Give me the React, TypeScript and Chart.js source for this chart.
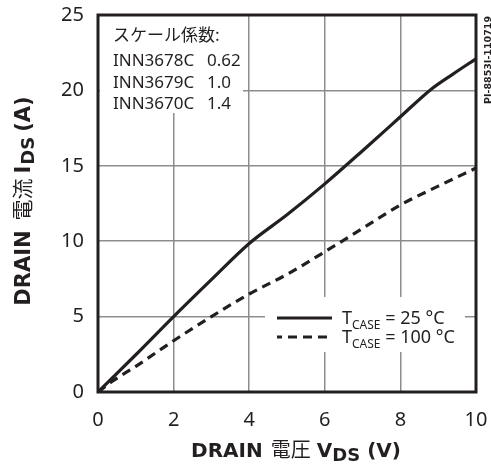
import React, { useEffect, useRef } from "react";
import { Chart, registerables } from "chart.js";
Chart.register(...registerables);

// ---- data ----
const vds25 = [0, 1, 2, 3, 4, 5, 6, 7, 8, 8.8, 9.4, 10];
const ids25 = [0, 2.47, 5.0, 7.45, 9.85, 11.75, 13.8, 16.0, 18.25, 20.05, 21.1, 22.1];
const vds100 = [0, 0.4, 1, 2, 3, 4, 5, 6, 7, 8, 9, 10];
const ids100 = [0, 0.75, 1.7, 3.4, 5.0, 6.5, 7.8, 9.3, 10.85, 12.4, 13.65, 14.85];
const xMin = 0, xMax = 10, xStep = 2;
const yMin = 0, yMax = 25, yStep = 5;
const scaleHeader = "スケール係数:";
const partNames = ["INN3678C", "INN3679C", "INN3670C"];
const scaleFactors = ["0.62", "1.0", "1.4"];
const legendTemps = ["= 25 °C", "= 100 °C"];
const docId = "PI-8853I-110719";

const INK = "#231f20";
const GRID = "#8d8d8d";
const SANS = "'Noto Sans', sans-serif";
const BOLD = "'DejaVu Sans', sans-serif";
const CJK = "'Noto Sans CJK JP', sans-serif";

type Run = { t: string; f: string; dy?: number; gap?: number };

function runsWidth(ctx: CanvasRenderingContext2D, runs: Run[]) {
  let w = 0;
  for (const r of runs) { ctx.font = r.f; w += ctx.measureText(r.t).width + (r.gap || 0); }
  return w;
}
function drawRuns(ctx: CanvasRenderingContext2D, runs: Run[], x: number, y: number, align: "left" | "center") {
  let cx = align === "center" ? x - runsWidth(ctx, runs) / 2 : x;
  ctx.textAlign = "left";
  ctx.textBaseline = "alphabetic";
  for (const r of runs) {
    ctx.font = r.f;
    ctx.fillText(r.t, cx, y + (r.dy || 0));
    cx += ctx.measureText(r.t).width + (r.gap || 0);
  }
}

const decor = {
  id: "decor",
  beforeDatasetsDraw(chart: any) {
    const ctx = chart.ctx as CanvasRenderingContext2D;
    ctx.save();
    ctx.fillStyle = "#ffffff";
    ctx.fillRect(100, 16, 143, 97);
    ctx.fillRect(265, 297, 200, 55);
    ctx.restore();
  },
  afterDatasetsDraw(chart: any) {
    const ctx = chart.ctx as CanvasRenderingContext2D;
    const a = chart.chartArea;
    ctx.save();
    ctx.strokeStyle = INK;
    ctx.lineWidth = 3;
    ctx.strokeRect(a.left, a.top, a.right - a.left, a.bottom - a.top);

    ctx.fillStyle = INK;
    // scale factor note
    ctx.font = `17px ${CJK}`;
    ctx.textBaseline = "alphabetic";
    ctx.textAlign = "left";
    ctx.fillText(scaleHeader, 113, 41);
    ctx.font = `17px ${SANS}`;
    partNames.forEach((p, i) => {
      const y = 66 + i * 21.7;
      ctx.fillText(p, 113, y);
      ctx.fillText(scaleFactors[i], 207, y);
    });

    // legend
    const ly = [318, 337];
    ctx.strokeStyle = INK;
    ctx.lineWidth = 3.2;
    ctx.beginPath();
    ctx.setLineDash([]);
    ctx.moveTo(277, ly[0]); ctx.lineTo(332, ly[0]);
    ctx.stroke();
    ctx.beginPath();
    ctx.setLineDash([9, 6]);
    ctx.lineDashOffset = 4;
    ctx.moveTo(277, ly[1]); ctx.lineTo(332, ly[1]);
    ctx.stroke();
    ctx.setLineDash([]);
    legendTemps.forEach((t, i) => {
      drawRuns(ctx, [
        { t: "T", f: `18px ${SANS}` },
        { t: "CASE", f: `12px ${SANS}`, dy: 5 },
        { t: " " + t, f: `18px ${SANS}` },
      ], 342, ly[i] + 6, "left");
    });

    // x title
    drawRuns(ctx, [
      { t: "DRAIN", f: `bold 20px ${BOLD}`, gap: 8 },
      { t: "電圧", f: `20px ${CJK}`, gap: 6 },
      { t: "V", f: `bold 20px ${BOLD}` },
      { t: "DS", f: `bold 18px ${BOLD}`, dy: 4, gap: 7 },
      { t: "(V)", f: `bold 20px ${BOLD}` },
    ], 296, 457, "center");

    // y title
    ctx.save();
    ctx.translate(30, 201);
    ctx.rotate(-Math.PI / 2);
    drawRuns(ctx, [
      { t: "DRAIN", f: `bold 21px ${BOLD}`, gap: 10 },
      { t: "電流", f: `21px ${CJK}`, gap: 5 },
      { t: "I", f: `bold 21px ${BOLD}`, gap: 1 },
      { t: "DS", f: `bold 18px ${BOLD}`, dy: 4, gap: 5 },
      { t: "(A)", f: `bold 21px ${BOLD}` },
    ], 0, 0, "center");
    ctx.restore();

    // document id
    ctx.save();
    ctx.translate(490.5, 60);
    ctx.rotate(-Math.PI / 2);
    ctx.font = `bold 9.5px ${BOLD}`;
    ctx.textAlign = "center";
    ctx.fillText(docId, 0, 0);
    ctx.restore();

    ctx.restore();
  },
};

export default function App() {
  const ref = useRef<HTMLCanvasElement | null>(null);
  useEffect(() => {
    if (!ref.current) return;
    const chart = new Chart(ref.current, {
      type: "line",
      data: {
        datasets: [
          {
            label: "TCASE = 25 °C",
            data: vds25.map((x, i) => ({ x, y: ids25[i] })),
            borderColor: INK,
            borderWidth: 3.2,
            pointRadius: 0,
            cubicInterpolationMode: "monotone",
            fill: false,
          },
          {
            label: "TCASE = 100 °C",
            data: vds100.map((x, i) => ({ x, y: ids100[i] })),
            borderColor: INK,
            borderWidth: 3.2,
            borderDash: [9, 6],
            pointRadius: 0,
            cubicInterpolationMode: "monotone",
            fill: false,
          },
        ],
      },
      options: {
        responsive: false,
        animation: false,
        devicePixelRatio: 1,
        layout: { padding: { top: 15, right: 15, left: 0, bottom: 0 } },
        plugins: { legend: { display: false }, tooltip: { enabled: false } },
        scales: {
          x: {
            type: "linear",
            min: xMin, max: xMax,
            ticks: { stepSize: xStep, padding: 16, color: INK, font: { family: SANS, size: 20 } },
            grid: { color: GRID, lineWidth: 1.5, drawTicks: false },
            border: { display: false },
            afterFit: (s: any) => { s.height = 80; s.paddingLeft = 0; s.paddingRight = 0; s.paddingTop = 0; s.paddingBottom = 0; },
          },
          y: {
            type: "linear",
            min: yMin, max: yMax,
            ticks: { stepSize: yStep, padding: 14, color: INK, font: { family: SANS, size: 20 } },
            grid: { color: GRID, lineWidth: 1.5, drawTicks: false },
            border: { display: false },
            afterFit: (s: any) => { s.width = 98; s.paddingLeft = 0; s.paddingRight = 0; s.paddingTop = 0; s.paddingBottom = 0; },
          },
        },
      },
      plugins: [decor],
    } as any);
    return () => chart.destroy();
  }, []);
  return (
    <div style={{ position: "fixed", left: 0, top: 0, width: 491, height: 472, background: "#fff" }}>
      <canvas ref={ref} width={491} height={472} />
    </div>
  );
}
